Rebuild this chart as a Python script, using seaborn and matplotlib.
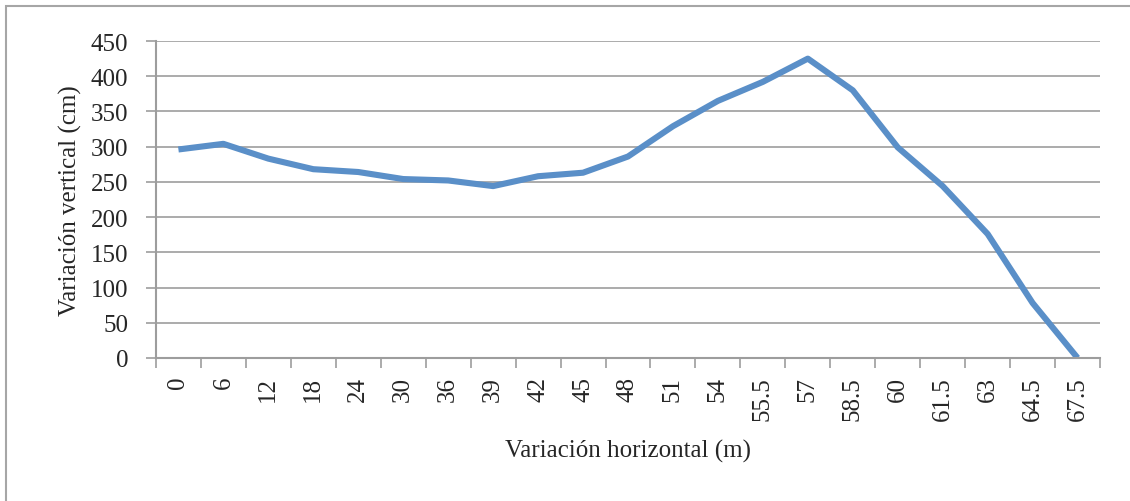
import seaborn as sns
import numpy as np
import matplotlib
import matplotlib.pyplot as plt
import pandas as pd
from matplotlib.patches import Rectangle

# datos del perfil
horizontal = ["0", "6", "12", "18", "24", "30", "36", "39", "42", "45", "48",
              "51", "54", "55.5", "57", "58.5", "60", "61.5", "63", "64.5", "67.5"]
vertical = [296, 304, 283, 268, 264, 254, 252, 244, 258, 263, 286,
            329, 365, 392, 425, 380, 299, 244, 176, 78, 0]
y_ticks = [0, 50, 100, 150, 200, 250, 300, 350, 400, 450]

sns.set_style("white")
plt.rcParams['font.family'] = ['Liberation Serif', 'DejaVu Serif']

data = pd.DataFrame({"x": horizontal, "y": vertical})

fig = plt.figure(figsize=(11.3, 5.02), dpi=100)
ax = fig.add_axes((0.138, 0.285, 0.8355, 0.6313))

sns.lineplot(data=data, x="x", y="y", sort=False, color="#5a8fc8",
             linewidth=4.4, ax=ax, solid_capstyle="butt")

grey = "#9d9d9d"
ax.set_ylim(0, 450)
ax.set_yticks(y_ticks)
ax.set_xlim(-0.5, len(horizontal) - 0.5)
ax.set_xticks(range(len(horizontal)))
ax.set_xticklabels(horizontal, rotation=90)
ax.set_xticks(np.arange(len(horizontal) + 1) - 0.5, minor=True)
ax.grid(axis="y", color=grey, linewidth=1.2)
ax.set_axisbelow(True)

for s in ["top", "right"]:
    ax.spines[s].set_visible(False)
for s in ["left", "bottom"]:
    ax.spines[s].set_color(grey)
    ax.spines[s].set_linewidth(1.5)

fs = 18
ax.tick_params(axis="x", which="major", length=0, pad=13, labelsize=fs)
ax.tick_params(axis="x", which="minor", length=7, width=1.2, color=grey, direction="out", bottom=True)
ax.tick_params(axis="y", length=7, width=1.2, color=grey, direction="out", pad=13, labelsize=fs, left=True)

ax.set_xlabel("Variación horizontal (m)", fontsize=fs, labelpad=14)
ax.set_ylabel("Variación vertical (cm)", fontsize=fs, labelpad=6)

# marco exterior
fig.patches.append(Rectangle((0.0055, -0.05), 1.1, 1.036, transform=fig.transFigure,
                             fill=False, edgecolor="#a6a6a6", linewidth=1.5))

fig.savefig("out.png", dpi=100)
plt.close()
